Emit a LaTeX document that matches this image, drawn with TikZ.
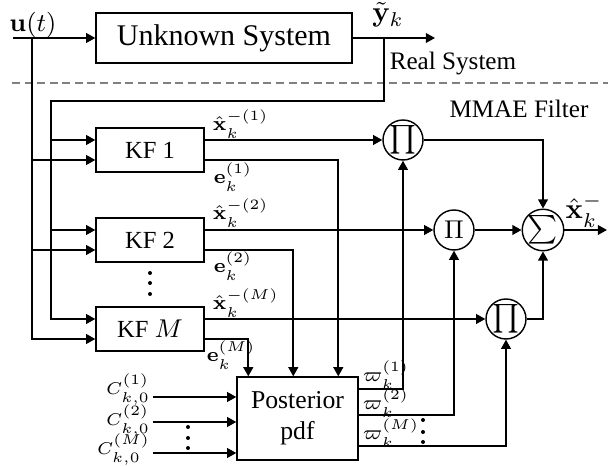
\documentclass[tikz,border=0pt]{standalone}
\usepackage[no-math]{fontspec}
\setmainfont{Liberation Serif}
\usetikzlibrary{arrows.meta,calc}
\begin{document}
\begin{tikzpicture}[x=0.35pt,y=-0.35pt,
  >={Triangle[length=3.2pt,width=3.4pt]},
  line width=0.6pt,
  blk/.style={draw,line width=0.5pt,inner sep=0pt},
  kfbox/.style={blk,minimum width=37.8pt,minimum height=15.4pt,font=\fontsize{8.6}{10}\selectfont},
  circ/.style={draw,circle,line width=0.5pt,inner sep=0pt,minimum size=14pt},
  lbl/.style={font=\scriptsize,inner sep=0pt},
  clbl/.style={font=\fontsize{6.3}{7}\selectfont,inner sep=0pt},
  txt/.style={font=\fontsize{8.8}{10}\selectfont,inner sep=0pt},
  dotm/.style={fill,circle,inner sep=0pt,minimum size=1.4pt}
]
\useasboundingbox (0,0) rectangle (608,466);

% blocks
\node[blk,minimum width=89.6pt,minimum height=17.5pt,font=\fontsize{10.5}{12}\selectfont] (unk) at (224,38) {Unknown System};
\node[kfbox] (kf1) at (150,150) {KF 1};
\node[kfbox] (kf2) at (150,240) {KF 2};
\node[kfbox] (kfm) at (150,329) {KF $M$};
\node[blk,minimum width=42.35pt,minimum height=29pt,align=center,font=\fontsize{9}{11}\selectfont] (post) at (297.5,418.5) {Posterior\\pdf};
\node[circ,font=\fontsize{8.5}{10}\selectfont] (p1) at (403,140) {$\prod$};
\node[circ,font=\fontsize{9}{10}\selectfont] (p2) at (454,230) {$\Pi$};
\node[circ,font=\fontsize{7.8}{10}\selectfont] (sig) at (543,230) {$\sum$};
\node[circ,font=\fontsize{8.5}{10}\selectfont] (p3) at (506,319) {$\prod$};

% separator and section titles
\coordinate (dl) at (12,83);
\coordinate (dr) at (608,83);
\draw[gray,line width=0.5pt,dash pattern=on 2.8pt off 1.6pt] (dl) -- (dr);
\node[txt] (rs) at (453,63) {Real System};
\node[txt] (mf) at (519,109) {MMAE Filter};

% coordinates
\coordinate (uin) at (13,38);
\coordinate (ujn) at (32,38);
\coordinate (yout) at (435,38);
\coordinate (yb) at (384,38);
\coordinate (fb1) at (384,101);
\coordinate (fb2) at (51,101);
\coordinate (kf1a) at ($(kf1.west)+(0,-10)$);
\coordinate (kf1b) at ($(kf1.west)+(0,10)$);
\coordinate (kf2a) at ($(kf2.west)+(0,-10)$);
\coordinate (kf2b) at ($(kf2.west)+(0,10)$);
\coordinate (kfma) at ($(kfm.west)+(0,-10)$);
\coordinate (kfmb) at ($(kfm.west)+(0,10)$);
\coordinate (pt1) at ($(post.north west)+(102,0)$);
\coordinate (pt2) at ($(post.north west)+(57,0)$);
\coordinate (pt3) at ($(post.north west)+(12,0)$);
\coordinate (c1) at (153,397);
\coordinate (c2) at (153,422);
\coordinate (c3) at (153,453);
\coordinate (w1) at (358,389);
\coordinate (w2) at (358,415);
\coordinate (w3) at (358,446);
\coordinate (xout) at (607,230);

% input and real system
\node[inner sep=0pt,font=\fontsize{9.5}{11}\selectfont] (ulbl) at (33,25) {$\mathbf{u}(t)$};
\draw[->] (uin) -- (unk.west);
\draw[->] (unk.east) -- (yout);
\node[inner sep=0pt] (ylbl) at (388,15) {$\tilde{\mathbf{y}}_k$};
\draw[->] (ujn) |- (kfmb);
\draw[->] (ujn |- kf1b) -- (kf1b);
\draw[->] (ujn |- kf2b) -- (kf2b);
\draw[->] (yb) -- (fb1) -- (fb2) |- (kfma);
\draw[->] (fb2 |- kf1a) -- (kf1a);
\draw[->] (fb2 |- kf2a) -- (kf2a);

% KF outputs
\draw[->] (kf1.east |- kf1a) -- (p1.west);
\draw[->] (kf2.east |- kf2a) -- (p2.west);
\draw[->] (kfm.east |- kfma) -- (p3.west);
\draw[->] (kf1.east |- kf1b) -| (pt1);
\draw[->] (kf2.east |- kf2b) -| (pt2);
\draw[->] (kfm.east |- kfmb) -| (pt3);
\node[lbl,anchor=west] (lx1) at (212,124) {$\hat{\mathbf{x}}_k^{-(1)}$};
\node[lbl,anchor=west] (le1) at (213,177) {$\mathbf{e}_k^{(1)}$};
\node[lbl,anchor=west] (lx2) at (212,213) {$\hat{\mathbf{x}}_k^{-(2)}$};
\node[lbl,anchor=west] (le2) at (213,266) {$\mathbf{e}_k^{(2)}$};
\node[lbl,anchor=west] (lxm) at (212,303) {$\hat{\mathbf{x}}_k^{-(M)}$};
\node[lbl,anchor=west] (lem) at (206,355) {$\mathbf{e}_k^{(M)}$};

% combination
\draw[->] (p2) -- (sig);
\draw[->] (p1.east) -| (sig.north);
\draw[->] (p3.east) -| (sig.south);
\draw[->] (sig.east) -- (xout);
\node[inner sep=0pt] (xlbl) at (584,211) {$\hat{\mathbf{x}}_k^-$};

% posterior inputs
\draw[->] (c1) -- (c1 -| post.west);
\draw[->] (c2) -- (c2 -| post.west);
\draw[->] (c3) -- (c3 -| post.west);
\node[clbl,anchor=east] (lc1) at ($(c1)+(-2,-7)$) {$C_{k,0}^{(1)}$};
\node[clbl,anchor=east] (lc2) at ($(c2)+(-2,-1)$) {$C_{k,0}^{(2)}$};
\node[clbl,anchor=east] (lc3) at ($(c3)+(-2,-3)$) {$C_{k,0}^{(M)}$};

% posterior outputs
\draw[->] (w1) -| (p1.south);
\draw[->] (w2) -| (p2.south);
\draw[->] (w3) -| (p3.south);
\node[lbl,anchor=west] (lw1) at (362,375) {$\varpi_k^{(1)}$};
\node[lbl,anchor=west] (lw2) at (362,403) {$\varpi_k^{(2)}$};
\node[lbl,anchor=west] (lw3) at (362,433) {$\varpi_k^{(M)}$};

% dots
\foreach \yy in {273,283,294} \node[dotm] at (150,\yy) {};
\foreach \yy in {427,438,448} \node[dotm] at (188,\yy) {};
\foreach \yy in {420,432,442} \node[dotm] at (423,\yy) {};
\end{tikzpicture}
\end{document}
